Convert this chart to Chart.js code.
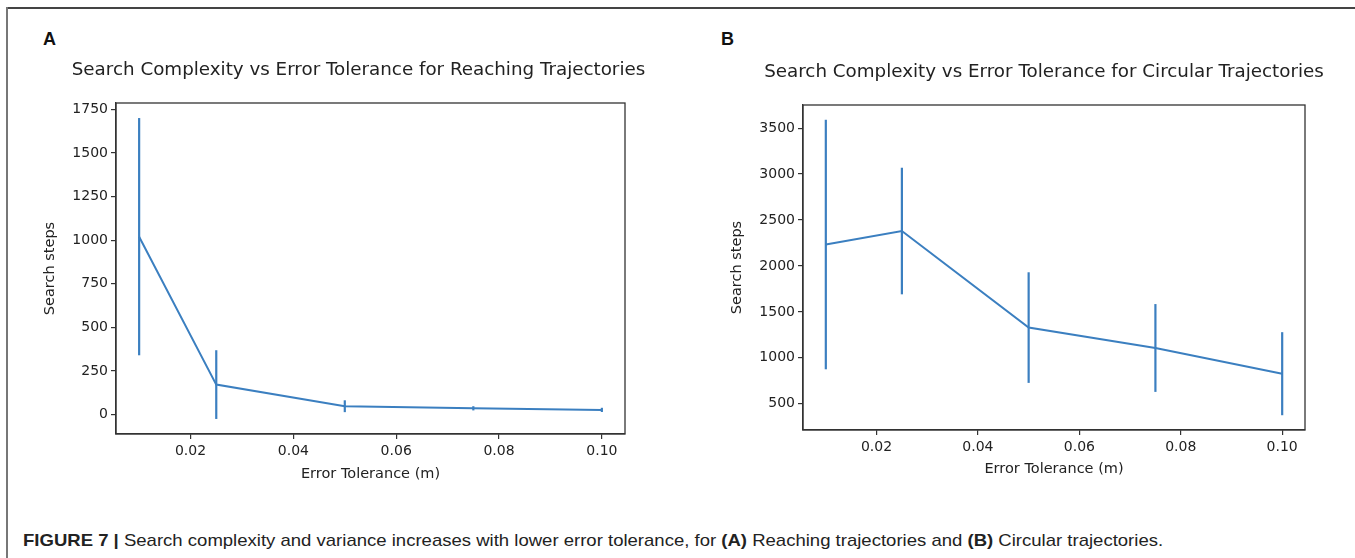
<!DOCTYPE html>
<html>
<head>
<meta charset="utf-8">
<script src="https://cdn.jsdelivr.net/npm/chart.js@4.4.1/dist/chart.umd.min.js"></script>
<style>
  body { margin: 0; background: #fff; width: 1355px; height: 558px; overflow: hidden; position: relative; font-family: "DejaVu Sans", sans-serif; }
  .frame-top { position: absolute; left: 6px; top: 7px; width: 1349px; height: 2px; background: #444; }
  .frame-left { position: absolute; left: 6px; top: 7px; width: 2px; height: 551px; background: #777; }
  .panel { position: absolute; font-family: "Liberation Sans", Arial, sans-serif; font-weight: bold; font-size: 18px; color: #111; }
  .caption { position: absolute; left: 23px; top: 532px; font-family: "Liberation Sans", Arial, sans-serif; font-size: 17px; line-height: 17px; color: #222; white-space: nowrap; transform: scaleX(1.09); transform-origin: left top; }
  canvas { position: absolute; top: 0; }
</style>
</head>
<body>
<div class="frame-top"></div>
<div class="frame-left"></div>
<div class="panel" style="left:43px; top:29px;">A</div>
<div class="panel" style="left:721px; top:29px;">B</div>
<canvas id="chartA" width="680" height="500" style="left:0px"></canvas>
<canvas id="chartB" width="675" height="500" style="left:680px"></canvas>
<div class="caption"><b>FIGURE 7 |</b> Search complexity and variance increases with lower error tolerance, for <b>(A)</b> Reaching trajectories and <b>(B)</b> Circular trajectories.</div>

<script>
// error tolerance (m) used in both experiments
var tolerance = [0.01, 0.025, 0.05, 0.075, 0.1];

// (A) reaching trajectories: mean search steps and error bar half-length
var reachingMean = [1020, 172, 48, 36, 27];
var reachingErr = [680, 197, 34, 12, 12];

// (B) circular trajectories
var circularMean = [2233, 2380, 1329, 1107, 827];
var circularErr = [1358, 689, 602, 478, 452];

// tick labels
var xTicks = [0.02, 0.04, 0.06, 0.08, 0.10];
var yTicksA = [0, 250, 500, 750, 1000, 1250, 1500, 1750];
var yTicksB = [500, 1000, 1500, 2000, 2500, 3000, 3500];

var blue = '#3b7fc0';
var ink = '#222';

// box round the plot area (matplotlib spines) + the axes title above it
var framePlugin = {
    id: 'frame',
    afterDatasetsDraw: function(chart, args, opts) {
        var a = chart.chartArea;
        var ctx = chart.ctx;
        ctx.save();
        ctx.strokeStyle = '#333';
        ctx.lineWidth = 1.3;
        ctx.strokeRect(a.left, a.top, a.right - a.left, a.bottom - a.top);

        ctx.fillStyle = ink;
        ctx.font = '18.3px "DejaVu Sans"';
        ctx.textAlign = 'center';
        ctx.textBaseline = 'middle';
        ctx.fillText(opts.text, (a.left + a.right) / 2 + opts.dx, opts.y);
        ctx.restore();
    }
};

function makeChart(id, title, means, errs, yTicks, box) {
    // line through the means
    var datasets = [{
        data: tolerance.map(function(x, i) { return { x: x, y: means[i] }; }),
        showLine: true,
        borderColor: blue,
        borderWidth: 2,
        pointRadius: 0,
        tension: 0
    }];
    // one vertical segment per error bar
    tolerance.forEach(function(x, i) {
        datasets.push({
            data: [{ x: x, y: means[i] - errs[i] }, { x: x, y: means[i] + errs[i] }],
            showLine: true,
            borderColor: blue,
            borderWidth: 2.2,
            pointRadius: 0
        });
    });

    // axis limits with 5% margins, same as matplotlib autoscale
    var lo = Math.min.apply(null, means.map(function(m, i) { return m - errs[i]; }));
    var hi = Math.max.apply(null, means.map(function(m, i) { return m + errs[i]; }));
    var pad = (hi - lo) * 0.05;
    var xPad = (tolerance[tolerance.length - 1] - tolerance[0]) * 0.05;

    return new Chart(document.getElementById(id), {
        type: 'scatter',
        data: { datasets: datasets },
        plugins: [framePlugin],
        options: {
            responsive: false,
            animation: false,
            layout: { padding: { left: box.left, right: box.right, top: box.top, bottom: box.bottom } },
            plugins: {
                legend: { display: false },
                tooltip: { enabled: false },
                title: { display: false },
                frame: { text: title, dx: box.titleDx, y: box.titleY }
            },
            scales: {
                x: {
                    type: 'linear',
                    min: tolerance[0] - xPad,
                    max: tolerance[tolerance.length - 1] + xPad,
                    afterBuildTicks: function(s) { s.ticks = xTicks.map(function(v) { return { value: v }; }); },
                    afterFit: function(s) { s.height = box.xHeight; },
                    grid: { drawOnChartArea: false, drawTicks: true, tickLength: 5, color: '#333', lineWidth: 1.2 },
                    border: { display: true, color: '#333', width: 1.3 },
                    ticks: {
                        color: ink,
                        padding: 4,
                        maxRotation: 0,
                        font: { family: 'DejaVu Sans', size: 14 },
                        callback: function(v) { return v.toFixed(2); }
                    },
                    title: {
                        display: true,
                        text: 'Error Tolerance (m)',
                        color: ink,
                        font: { family: 'DejaVu Sans', size: 14.5, lineHeight: 1.2 },
                        padding: { top: 0, bottom: 0 }
                    }
                },
                y: {
                    min: lo - pad,
                    max: hi + pad,
                    afterBuildTicks: function(s) { s.ticks = yTicks.map(function(v) { return { value: v }; }); },
                    afterFit: function(s) { s.width = 76; },
                    grid: { drawOnChartArea: false, drawTicks: true, tickLength: 5, color: '#333', lineWidth: 1.2 },
                    border: { display: true, color: '#333', width: 1.3 },
                    ticks: {
                        color: ink,
                        padding: 3,
                        font: { family: 'DejaVu Sans', size: 14 },
                        callback: function(v) { return String(v); }
                    },
                    title: {
                        display: true,
                        text: 'Search steps',
                        color: ink,
                        font: { family: 'DejaVu Sans', size: 14.5, lineHeight: 1.2 },
                        padding: { top: 2, bottom: 0 }
                    }
                }
            }
        }
    });
}

makeChart('chartA', 'Search Complexity vs Error Tolerance for Reaching Trajectories',
    reachingMean, reachingErr, yTicksA,
    { left: 40, right: 55, top: 103, bottom: 17.3, xHeight: 48.7, titleY: 70, titleDx: -12 });

makeChart('chartB', 'Search Complexity vs Error Tolerance for Circular Trajectories',
    circularMean, circularErr, yTicksB,
    { left: 47, right: 50, top: 105, bottom: 22.3, xHeight: 47.7, titleY: 72, titleDx: -10 });
</script>
</body>
</html>
